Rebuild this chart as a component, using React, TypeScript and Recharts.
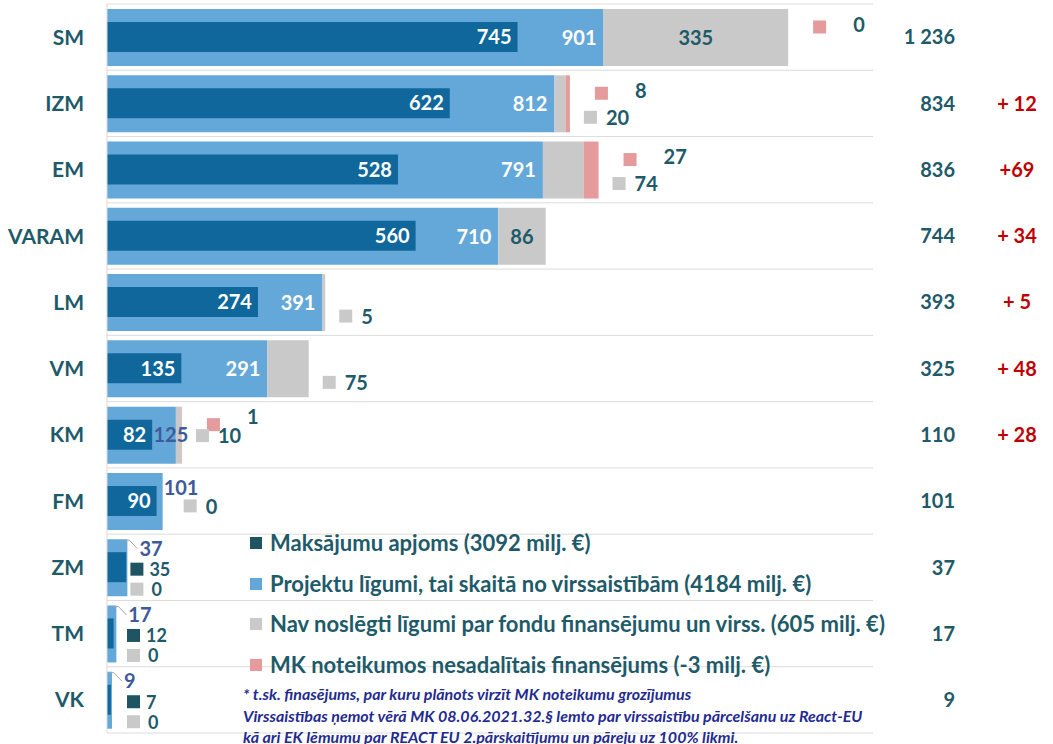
import React from 'react'
import { BarChart, Bar, XAxis, YAxis, CartesianGrid, LabelList } from 'recharts'

const categories = ['SM', 'IZM', 'EM', 'VARAM', 'LM', 'VM', 'KM', 'FM', 'ZM', 'TM', 'VK']
const payments = [745, 622, 528, 560, 274, 135, 82, 90, 35, 12, 7]
const contracts = [901, 812, 791, 710, 391, 291, 125, 101, 37, 17, 9]
const unsigned = [335, 20, 74, 86, 5, 75, 10, 0, 0, 0, 0]
const unallocated: (number | null)[] = [0, 8, 27, null, null, null, 1, null, null, null, null]
const totals = [1236, 834, 836, 744, 393, 325, 110, 101, 37, 17, 9]
const changes = ['', '+ 12', '+69', '+ 34', '+ 5', '+ 48', '+ 28', '', '', '', '']

const legendLabels = [
  'Maksājumu apjoms (3092 milj. €)',
  'Projektu līgumi, tai skaitā no virssaistībām (4184 milj. €)',
  'Nav noslēgti līgumi par fondu finansējumu un virss. (605 milj. €)',
  'MK noteikumos nesadalītais finansējums (-3 milj. €)',
]
const footnote = [
  '* t.sk. finasējums, par kuru plānots virzīt MK noteikumu grozījumus',
  'Virssaistības ņemot vērā MK 08.06.2021.32.§ lemto par virssaistību pārcelšanu uz React-EU',
  'kā ari EK lēmumu par REACT EU 2.pārskaitījumu un pāreju uz 100% likmi.',
]

const rows = categories.map((name, i) => ({
  name,
  payments: payments[i],
  contracts: contracts[i],
  unsigned: unsigned[i],
  mk: unallocated[i] ?? 0,
}))

const DARK = '#10679c'
const LIGHT = '#64a8da'
const GREY = '#c9c9c9'
const PINK = '#e59a9c'
const TEAL = '#1e5a69'
const MARK = '#1f5563'
const BLUE_TXT = '#3d5b9b'
const RED = '#c00000'
const legendColors = [MARK, LIGHT, GREY, PINK]

const num = { fontSize: 20, fontWeight: 700 }
const small = { fontSize: 18, fontWeight: 700 }

const fmt = (n: number) => String(n).replace(/\B(?=(\d{3})+(?!\d))/g, ' ')

const sq = (x: number, cy: number, color: string) => (
  <rect x={x} y={cy - 6} width={13} height={13} fill={color} />
)

const PaymentsLabel = (p: any) => {
  const { x, y, width, height, value } = p
  if (value < 60) return null
  return (
    <text x={x + width - 6} y={y + height / 2} dy="0.36em" textAnchor="end" fill="#fff" {...num}>
      {value}
    </text>
  )
}

const ContractsLabel = (p: any) => {
  const { x, y, width, height, value, index } = p
  const end = x + width
  const cy = y + height / 2
  if (value >= 200) {
    return (
      <text x={end - 7} y={cy} dy="0.36em" textAnchor="end" fill="#fff" {...num}>{value}</text>
    )
  }
  if (value >= 60) {
    if (value - payments[index] > 30) {
      return (
        <text x={end - 5} y={cy} dy="0.36em" textAnchor="middle" fill={BLUE_TXT} {...num}>{value}</text>
      )
    }
    return (
      <text x={end + 1} y={cy - 14} dy="0.36em" textAnchor="start" fill={BLUE_TXT} {...num}>{value}</text>
    )
  }
  // small rows: stacked callouts to the right of the bar
  const mx = Math.max(end + 3, x + 20)
  return (
    <g>
      <polyline points={`${end - 3},${y + 1} ${end + 2},${y + 1} ${end + 10},${cy - 19}`} fill="none" stroke="#a6a6a6" strokeWidth={1} />
      <text x={end + 12} y={cy - 19} dy="0.36em" fill={BLUE_TXT} {...num}>{value}</text>
      {sq(mx, cy + 1, MARK)}
      <text x={mx + 19} y={cy + 2} dy="0.36em" fill={TEAL} {...small}>{payments[index]}</text>
      {sq(mx, cy + 21, GREY)}
      <text x={mx + 21} y={cy + 22} dy="0.36em" fill={TEAL} {...small}>{unsigned[index]}</text>
    </g>
  )
}

const UnsignedLabel = (p: any) => {
  const { x, y, width, height, value } = p
  if (value < 80) return null
  return (
    <text x={x + width / 2} y={y + height / 2} dy="0.36em" textAnchor="middle" fill={TEAL} {...num}>{value}</text>
  )
}

// callouts right of the whole stack (pink + grey markers)
const OutsideLabel = (p: any) => {
  const { x, y, width, height, index } = p
  const c = contracts[index]
  if (c < 60) return null
  const mk = unallocated[index]
  const u = unsigned[index]
  const end = x + (width * (c + u + (mk ?? 0))) / c
  const cy = y + height / 2
  const labelAbove = c < 200 && c - payments[index] <= 30
  const gx = end + (labelAbove ? 21 : 14)
  const gy = cy + (mk === 1 ? 0 : labelAbove ? 4 : 13)
  return (
    <g>
      {mk != null && (
        <g>
          {sq(end + 25, cy - 11, PINK)}
          <text x={end + 65} y={cy - (mk === 1 ? 18 : 13)} dy="0.36em" fill={TEAL} {...num}>{mk}</text>
        </g>
      )}
      {u < 80 && (
        <g>
          {sq(gx, gy, GREY)}
          <text x={gx + 22} y={gy + 1} dy="0.36em" fill={TEAL} {...num}>{u}</text>
        </g>
      )}
    </g>
  )
}

const CategoryTick = ({ x, y, payload }: any) => (
  <text x={x} y={y} dy="0.36em" textAnchor="end" fill={TEAL} fontSize={21} fontWeight={700}>
    {payload.value}
  </text>
)

const TotalsTick = ({ x, y, payload }: any) => {
  const i = categories.indexOf(payload.value)
  return (
    <g>
      <text x={x + 82} y={y} dy="0.36em" textAnchor="end" fill={TEAL} {...num}>{fmt(totals[i])}</text>
      <text x={x + 144} y={y} dy="0.36em" textAnchor="middle" fill={RED} {...num}>{changes[i]}</text>
    </g>
  )
}

export default function App() {
  return (
    <div style={{ position: 'absolute', left: 0, top: 0, width: 1053, height: 744, background: '#fff', fontFamily: 'Lato, "Open Sans", sans-serif' }}>
      <BarChart
        layout="vertical"
        width={1053}
        height={744}
        data={rows}
        margin={{ top: 4, right: 0, bottom: 11, left: 0 }}
      >
        <CartesianGrid
          yAxisId="main"
          vertical={false}
          stroke="#dcdcdc"
          horizontalCoordinatesGenerator={({ offset }: any) =>
            Array.from({ length: categories.length + 1 }, (_, i) => offset.top + (i * offset.height) / categories.length)
          }
        />
        <XAxis type="number" domain={[0, 1390]} hide />
        <YAxis
          yAxisId="main"
          type="category"
          dataKey="name"
          width={107}
          axisLine={{ stroke: '#d9d9d9' }}
          tickLine={false}
          tickSize={0}
          tickMargin={23}
          tick={<CategoryTick />}
          interval={0}
        />
        <YAxis
          yAxisId="right"
          orientation="right"
          type="category"
          dataKey="name"
          width={180}
          axisLine={false}
          tickLine={false}
          tickSize={0}
          tickMargin={0}
          tick={<TotalsTick />}
          interval={0}
        />
        <Bar yAxisId="main" dataKey="contracts" stackId="s" fill={LIGHT} barSize={57} isAnimationActive={false}>
          <LabelList dataKey="contracts" content={<ContractsLabel />} />
          <LabelList dataKey="contracts" content={<OutsideLabel />} />
        </Bar>
        <Bar yAxisId="main" dataKey="unsigned" stackId="s" fill={GREY} barSize={57} isAnimationActive={false}>
          <LabelList dataKey="unsigned" content={<UnsignedLabel />} />
        </Bar>
        <Bar yAxisId="main" dataKey="mk" stackId="s" fill={PINK} barSize={57} isAnimationActive={false} />
        <Bar yAxisId="right" dataKey="payments" fill={DARK} barSize={30} isAnimationActive={false}>
          <LabelList dataKey="payments" content={<PaymentsLabel />} />
        </Bar>
      </BarChart>

      {legendLabels.map((label, i) => (
        <div
          key={label}
          style={{ position: 'absolute', left: 250, top: 530 + i * 40.5, display: 'flex', alignItems: 'center', gap: 8, color: TEAL, fontSize: 22, fontWeight: 700, whiteSpace: 'nowrap', lineHeight: '26px' }}
        >
          <span style={{ width: 12, height: 12, background: legendColors[i], display: 'inline-block' }} />
          {label}
        </div>
      ))}
      <div style={{ position: 'absolute', left: 243, top: 683, color: '#1f2b8f', fontSize: 16, fontWeight: 700, fontStyle: 'italic', lineHeight: '21.5px', whiteSpace: 'nowrap' }}>
        {footnote.map((line) => (
          <div key={line}>{line}</div>
        ))}
      </div>
    </div>
  )
}
